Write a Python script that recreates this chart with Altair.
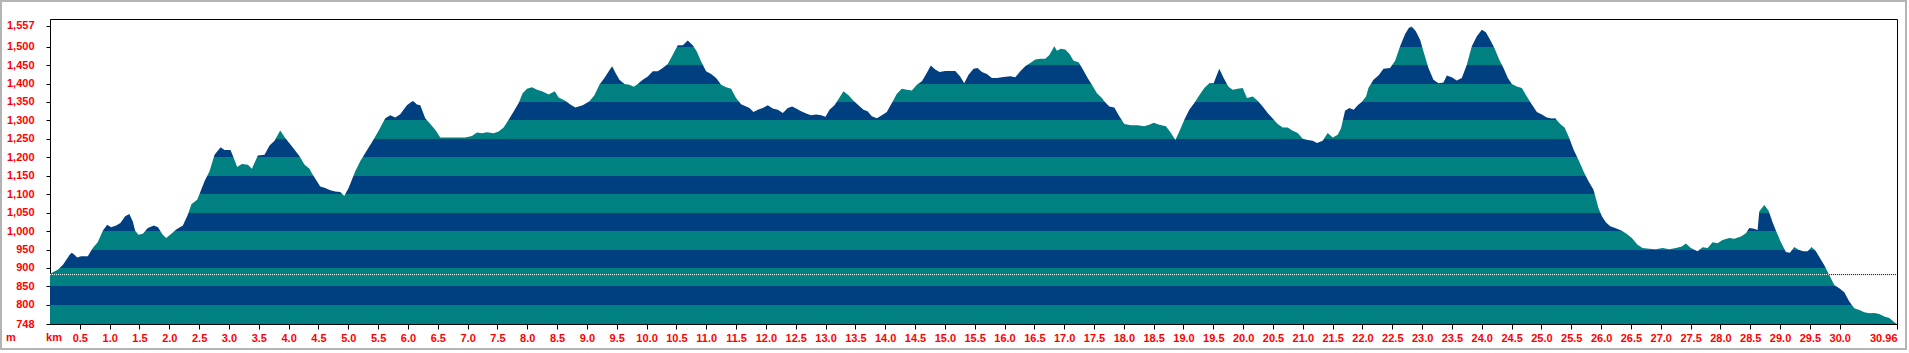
import altair as alt
import pandas as pd
import numpy as np

km = [
    0.00, 0.13, 0.215, 0.33, 0.365, 0.41, 0.455, 0.52, 0.634, 0.72, 0.80, 0.885, 0.958,
    1.025, 1.109, 1.18, 1.26, 1.33, 1.388, 1.427, 1.483, 1.556, 1.64, 1.74, 1.81, 1.89,
    1.947, 2.03, 2.115, 2.227, 2.31, 2.37, 2.467, 2.523, 2.59, 2.674, 2.758, 2.86, 2.925,
    3.026, 3.08, 3.138, 3.216, 3.317, 3.384, 3.484, 3.596, 3.68, 3.764, 3.859, 3.943,
    4.044, 4.183, 4.267, 4.35,
    4.39, 4.474, 4.53, 4.614, 4.697, 4.781, 4.865, 4.932, 5.005, 5.117, 5.2, 5.284, 5.396,
    5.508, 5.62, 5.704, 5.787, 5.871, 5.983, 6.084, 6.15, 6.207, 6.29, 6.374, 6.458,
    6.542, 6.626, 6.793, 6.961, 7.073, 7.157, 7.24, 7.325, 7.437, 7.52, 7.604, 7.688,
    7.772, 7.856, 7.923, 7.995, 8.08, 8.163, 8.247, 8.359, 8.46, 8.526, 8.638, 8.722, 8.806,
    8.93, 9.042, 9.125, 9.209, 9.293, 9.366, 9.422, 9.478, 9.545, 9.629, 9.712, 9.785,
    9.852, 9.936, 10.02, 10.104, 10.187, 10.271, 10.355, 10.439, 10.523, 10.607, 10.69,
    10.774, 10.842, 10.914, 10.998, 11.082, 11.166, 11.25, 11.333, 11.417, 11.5, 11.585,
    11.669, 11.725, 11.792, 11.864, 11.948, 12.032, 12.116, 12.2, 12.284, 12.367, 12.44,
    12.507, 12.591, 12.675, 12.759, 12.843, 12.926, 12.999, 13.066, 13.15, 13.234,
    13.3, 13.385, 13.469, 13.552, 13.636, 13.703, 13.776, 13.86, 13.944, 14.027, 14.111,
    14.195, 14.279, 14.363, 14.447, 14.531, 14.615, 14.687, 14.765, 14.838, 14.911,
    15.006, 15.09, 15.174, 15.257, 15.324, 15.397, 15.481, 15.548, 15.621, 15.704,
    15.788, 15.872, 15.984, 16.096, 16.18, 16.264, 16.347, 16.431, 16.515, 16.599,
    16.683, 16.755, 16.834, 16.878, 16.945, 17.018, 17.09, 17.158, 17.242, 17.314,
    17.393, 17.465, 17.549, 17.633,
    17.672, 17.756, 17.84, 17.924, 18.007, 18.119, 18.231, 18.343, 18.427, 18.5, 18.594,
    18.706, 18.79, 18.863, 18.93, 19.014, 19.097, 19.181, 19.265, 19.349, 19.433, 19.505,
    19.6, 19.673, 19.751, 19.824, 19.908, 19.992, 20.064, 20.16, 20.243, 20.327, 20.411,
    20.495, 20.579, 20.663, 20.746, 20.83, 20.914, 20.998, 21.082, 21.166, 21.238,
    21.333, 21.417, 21.501, 21.585, 21.641, 21.708, 21.78, 21.853, 21.92, 21.987, 22.06,
    22.1, 22.184, 22.268, 22.352, 22.463, 22.547, 22.631, 22.715, 22.782, 22.827, 22.894,
    22.966, 23.039, 23.106, 23.19, 23.274, 23.358, 23.414, 23.497, 23.581, 23.665,
    23.749, 23.833, 23.917, 24.001, 24.068, 24.14, 24.213, 24.291, 24.364, 24.437,
    24.504, 24.587, 24.671, 24.755, 24.839, 24.923, 25.007, 25.09, 25.174, 25.23, 25.314,
    25.387, 25.454, 25.538, 25.622, 25.705, 25.789, 25.873, 25.957, 26.013, 26.08,
    26.153, 26.236, 26.348, 26.432, 26.516,
    26.611, 26.695, 26.806, 26.918, 27.03, 27.142, 27.254, 27.354, 27.421, 27.505,
    27.617, 27.701, 27.785, 27.869, 27.952, 28.036, 28.148, 28.232, 28.344, 28.428,
    28.483, 28.567, 28.623, 28.651, 28.735, 28.808, 28.874, 28.931, 29.014, 29.098,
    29.165, 29.238, 29.311, 29.389, 29.462, 29.529, 29.601, 29.668, 29.741, 29.825,
    29.909, 29.993, 30.076, 30.16, 30.244, 30.328, 30.412, 30.496, 30.58, 30.663,
    30.747, 30.831, 30.915, 30.96,
]
elev = [
    884, 895, 908, 936, 941, 936, 928, 932, 932, 955, 970, 1001, 1017,
    1010, 1015, 1022, 1040, 1046, 1026, 1001, 990, 993, 1008, 1015, 1010, 990,
    981, 992, 1004, 1015, 1044, 1073, 1085, 1107, 1135, 1162, 1207, 1227, 1220,
    1220, 1198, 1174, 1182, 1180, 1169, 1205, 1207, 1232, 1245, 1273, 1252,
    1232, 1203, 1180, 1169,
    1157, 1135, 1121, 1117, 1111, 1107, 1106, 1095, 1117, 1162, 1189, 1212, 1241,
    1272, 1306, 1314, 1308, 1317, 1341, 1353, 1343, 1341, 1306, 1290, 1275,
    1254, 1254, 1254, 1254, 1258, 1267, 1265, 1268, 1265, 1270, 1281, 1302,
    1324, 1347, 1374, 1386, 1390, 1383, 1379, 1370, 1379, 1362, 1353, 1343, 1335,
    1341, 1352, 1368, 1397, 1415, 1433, 1447, 1429, 1410, 1399, 1397, 1391,
    1399, 1410, 1419, 1433, 1433, 1442, 1453, 1478, 1504, 1504, 1517,
    1504, 1487, 1460, 1433, 1426, 1415, 1397, 1390, 1386, 1361, 1344,
    1338, 1334, 1323, 1329, 1334, 1341, 1332, 1329, 1320, 1334, 1338,
    1332, 1325, 1319, 1314, 1316, 1314, 1310, 1329, 1341, 1362,
    1379, 1368, 1353, 1341, 1329, 1325, 1311, 1306, 1314, 1323, 1347,
    1372, 1386, 1383, 1381, 1397, 1406, 1426, 1449, 1438, 1431,
    1434, 1434, 1434, 1419, 1401, 1424, 1440, 1442, 1431, 1426,
    1415, 1415, 1418, 1420, 1417, 1433, 1447, 1456, 1465, 1467,
    1467, 1478, 1501, 1489, 1494, 1492, 1480, 1462, 1458, 1438,
    1415, 1397, 1374, 1361,
    1352, 1338, 1335, 1311, 1290, 1287, 1287, 1284, 1288, 1294, 1288,
    1284, 1266, 1247, 1270, 1302, 1329, 1347, 1368, 1388, 1401, 1401,
    1440, 1415, 1392, 1383, 1386, 1388, 1361, 1365, 1353, 1338, 1320,
    1305, 1290, 1281, 1281, 1272, 1266, 1250, 1247, 1245, 1239,
    1245, 1266, 1254, 1261, 1279, 1326, 1334, 1329, 1341, 1350, 1365,
    1388, 1410, 1422, 1440, 1442, 1462, 1501, 1534, 1552, 1555, 1542,
    1519, 1478, 1442, 1410, 1401, 1403, 1422, 1417, 1408, 1415,
    1451, 1501, 1528, 1546, 1539, 1519, 1496, 1465, 1442, 1415,
    1399, 1392, 1388, 1365, 1343, 1323, 1316, 1308, 1305, 1306, 1290,
    1281, 1257, 1221, 1193, 1162, 1135, 1112, 1062, 1040, 1024,
    1013, 1008, 1001, 992, 981,
    963, 954, 952, 951, 954, 951, 954, 958, 966, 954,
    945, 956, 954, 970, 967, 976, 981, 979, 985, 994,
    1008, 1006, 1003, 1053, 1071, 1055, 1024, 1001, 970, 943,
    941, 957, 949, 945, 945, 957, 945, 927, 907, 881,
    854, 845, 834, 809, 791, 786, 780, 777, 778, 775,
    768, 764, 753, 748,
]

y_ticks = [748, 800, 850, 900, 950, 1000, 1050, 1100, 1150, 1200, 1250, 1300,
           1350, 1400, 1450, 1500, 1557]
x_ticks = [round(0.5 * i, 1) for i in range(1, 61)] + [30.96]
band_edges = [748] + list(range(800, 1601, 50))   # colour bands every 50 m
start_level = 882                                  # dotted reference line (start elevation)
total_km = 30.96
y_min, y_max = 748, 1575

TEAL = "#008080"
BLUE = "#004080"
RED = "#ff0000"
FONT = "Liberation Sans"

df = pd.DataFrame({"km": km, "elev": elev})

xs = alt.Scale(domain=[0, total_km], nice=False, zero=False)
ys = alt.Scale(domain=[y_min, y_max], nice=False, zero=False)

x_axis = alt.Axis(values=x_ticks,
                  labelExpr="datum.value == 30.96 ? '30.96' : format(datum.value, '.1f')",
                  title=None, grid=False, domain=False, tickSize=5, tickColor="#000000",
                  labelColor=RED, labelFont=FONT, labelFontSize=11, labelFontWeight="bold",
                  labelPadding=3, labelFlush=True, labelOverlap=False)
y_axis = alt.Axis(values=y_ticks, labelExpr="format(datum.value, ',d')", title=None,
                  grid=False, domain=False, tickSize=4, tickColor="#000000", labelColor=RED,
                  labelFont=FONT, labelFontSize=11, labelFontWeight="bold", labelPadding=12,
                  labelOverlap=False)


def X(field):
    return alt.X(field, scale=xs, axis=x_axis)


def Y(field):
    return alt.Y(field, scale=ys, axis=y_axis)


# 50 m colour bands as hard-stop gradient over the area's bounding box (y_min .. max elevation)
e_top = max(elev)
stops = []
for k in range(len(band_edges) - 1):
    lo, hi = band_edges[k], band_edges[k + 1]
    if lo >= e_top:
        break
    col = TEAL if (hi // 50) % 2 == 0 else BLUE
    o_lo = (lo - y_min) / (e_top - y_min)
    o_hi = min(1.0, (hi - y_min) / (e_top - y_min))
    stops.append(alt.GradientStop(offset=o_lo, color=col))
    stops.append(alt.GradientStop(offset=o_hi, color=col))

grad = alt.LinearGradient(gradient="linear", stops=stops, x1=0, x2=0, y1=1, y2=0)

profile = alt.Chart(df).mark_area(color=grad, interpolate="linear").encode(
    x=X("km:Q"), y=Y("elev:Q"), y2=alt.datum(y_min)
)

# dotted line at the start elevation: white over the profile, black where profile is below
kk = np.array(km)
ee = np.array(elev)
idx = int(np.where(ee >= start_level)[0][-1])
cross = float(np.interp(start_level, [ee[idx + 1], ee[idx]], [kk[idx + 1], kk[idx]]))

line_df = pd.DataFrame({"x1": [0.0, cross], "x2": [cross, total_km],
                        "lvl": [start_level, start_level], "c": ["w", "k"]})
rule = alt.Chart(line_df).mark_rule(strokeDash=[1, 1], strokeWidth=1).encode(
    x=X("x1:Q"), x2="x2:Q", y=Y("lvl:Q"),
    color=alt.Color("c:N", scale=alt.Scale(domain=["w", "k"], range=["#ffffff", "#000000"]),
                    legend=None),
)

unit_df = pd.DataFrame({"x": [0.0, 0.0], "y": [y_min, y_min], "t": ["km", "m"]})
km_lbl = alt.Chart(unit_df.iloc[[0]]).mark_text(
    color=RED, font=FONT, fontSize=11, fontWeight="bold", dx=4, dy=14, align="center",
    baseline="middle"
).encode(x=X("x:Q"), y=Y("y:Q"), text="t:N")
m_lbl = alt.Chart(unit_df.iloc[[1]]).mark_text(
    color=RED, font=FONT, fontSize=11, fontWeight="bold", dx=-39, dy=14, align="center",
    baseline="middle"
).encode(x=X("x:Q"), y=Y("y:Q"), text="t:N")

frame = alt.Chart(pd.DataFrame({"a": [0]})).mark_rect(
    fill="transparent", stroke="#b4b4b4", strokeWidth=2, clip=False
).encode(x=alt.value(-49), x2=alt.value(1856), y=alt.value(-18), y2=alt.value(330))

chart = alt.layer(profile, rule, km_lbl, m_lbl, frame).properties(
    width=1847, height=305,
    autosize=alt.AutoSizeParams(type="none"),
    padding={"left": 50, "top": 19, "right": 12, "bottom": 29},
    background="#ffffff",
).configure_view(stroke="#000000", strokeWidth=1)

chart.save("out.html", embed_options={"renderer": "svg", "actions": False})
